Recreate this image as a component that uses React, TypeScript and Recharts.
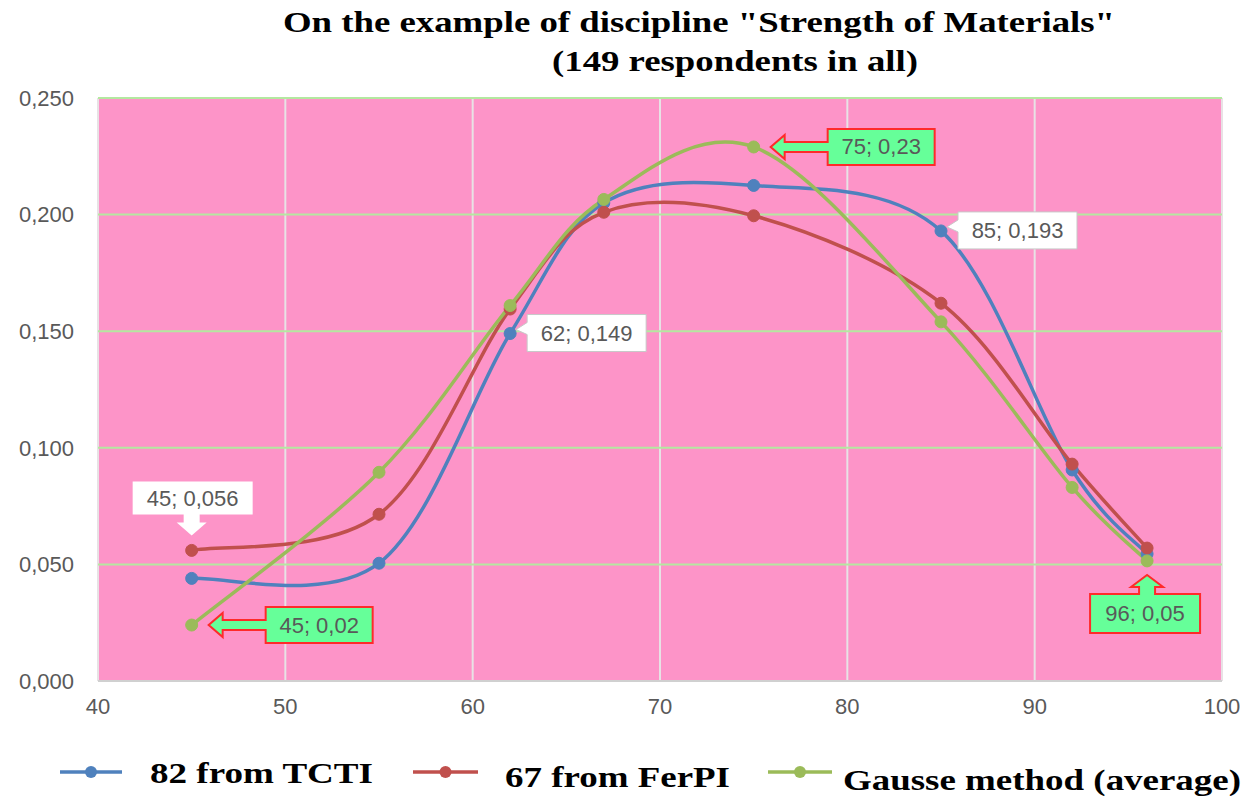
import React from 'react';
import { LineChart, Line, XAxis, YAxis, CartesianGrid, Legend, LabelList } from 'recharts';

// survey score (x) and share of respondents (y)
const xValues = [45, 55, 62, 67, 75, 85, 92, 96];
const tctiValues = [0.044, 0.0505, 0.149, 0.205, 0.2125, 0.193, 0.0905, 0.0545];
const ferpiValues = [0.056, 0.0715, 0.1595, 0.201, 0.1995, 0.162, 0.093, 0.057];
const gausseValues = [0.024, 0.0895, 0.161, 0.2065, 0.229, 0.154, 0.083, 0.0515];

const xTicks = [40, 50, 60, 70, 80, 90, 100];
const yTicks = [0, 0.05, 0.1, 0.15, 0.2, 0.25];

const seriesNames = ['82 from TCTI', '67 from FerPI', 'Gausse method (average)'];

// which points carry a data label
const tctiLabelled = [62, 85];
const ferpiLabelled = [45];
const gausseLabelled = [45, 75, 96];

const data = xValues.map((x, i) => ({
  x,
  tcti: tctiValues[i],
  ferpi: ferpiValues[i],
  gausse: gausseValues[i],
}));

const COLORS = { tcti: '#4f81bd', ferpi: '#c0504d', gausse: '#9bbb59' };
const LABEL_FONT = '"Liberation Sans", Arial, sans-serif';
const SERIF = '"Liberation Serif", "Times New Roman", serif';

// Excel-like smoothed line (Catmull-Rom through every point)
const excelCurve = (context: any) => {
  let pts: number[][] = [];
  return {
    areaStart() {},
    areaEnd() {},
    lineStart() {
      pts = [];
    },
    point(x: number, y: number) {
      pts.push([+x, +y]);
    },
    lineEnd() {
      if (!pts.length) return;
      context.moveTo(pts[0][0], pts[0][1]);
      const t = 1 / 6;
      for (let i = 0; i < pts.length - 1; i++) {
        const p0 = pts[i - 1] || pts[i];
        const p1 = pts[i];
        const p2 = pts[i + 1];
        const p3 = pts[i + 2] || p2;
        context.bezierCurveTo(
          p1[0] + (p2[0] - p0[0]) * t,
          p1[1] + (p2[1] - p0[1]) * t,
          p2[0] - (p3[0] - p1[0]) * t,
          p2[1] - (p3[1] - p1[1]) * t,
          p2[0],
          p2[1],
        );
      }
    },
  };
};

const comma = (v: number, d: number) => v.toFixed(d).replace('.', ',');

type Placement = 'right' | 'above' | 'left' | 'below';

const makeCallout = (labelled: number[], decimals: number, placeFor: (x: number) => Placement) =>
  (props: any) => {
    const { x, y, value, index } = props;
    const xv = xValues[index];
    if (!labelled.includes(xv)) return null;
    const px = Number(x);
    const py = Number(y);
    const text = `${xv}; ${comma(Number(value), decimals)}`;
    const place = placeFor(xv);
    let d = '';
    let tx = 0;
    let ty = 0;
    let fill = '#ffffff';
    let stroke = '#c8c8c8';
    let sw = 1;
    if (place === 'right') {
      const bx = px + 17;
      d = `M${bx},${py - 19} H${bx + 119} V${py + 18} H${bx} V${py + 1} L${px + 6},${py - 4} L${bx},${py - 11} Z`;
      tx = bx + 59.5;
      ty = py;
    } else if (place === 'above') {
      const bx = px - 59;
      d = `M${bx},${py - 69} H${bx + 120} V${py - 36} H${px + 8} V${py - 28} H${px + 15} L${px},${py - 15} L${px - 15},${py - 28} H${px - 8} V${py - 36} H${bx} Z`;
      tx = px + 1;
      ty = py - 52;
      stroke = 'none';
    } else if (place === 'left') {
      const bx = px + 74;
      d = `M${bx},${py - 18} H${bx + 107} V${py + 18} H${bx} V${py + 5} H${px + 31} V${py + 12} L${px + 17},${py} L${px + 31},${py - 12} V${py - 5} H${bx} Z`;
      tx = bx + 53.5;
      ty = py;
      fill = '#66ff99';
      stroke = '#ff2a2a';
      sw = 2;
    } else {
      d = `M${px - 57},${py + 33} H${px - 8} V${py + 26} H${px - 16} L${px},${py + 14} L${px + 16},${py + 26} H${px + 8} V${py + 33} H${px + 53} V${py + 72} H${px - 57} Z`;
      tx = px - 2;
      ty = py + 52.5;
      fill = '#66ff99';
      stroke = '#ff2a2a';
      sw = 2;
    }
    return (
      <g>
        <path d={d} fill={fill} stroke={stroke} strokeWidth={sw} strokeLinejoin="miter" />
        <text
          x={tx}
          y={ty}
          textAnchor="middle"
          dominantBaseline="central"
          fontFamily={LABEL_FONT}
          fontSize={22}
          fill="#595959"
        >
          {text}
        </text>
      </g>
    );
  };

const tctiCallout = makeCallout(tctiLabelled, 3, () => 'right');
const ferpiCallout = makeCallout(ferpiLabelled, 3, () => 'above');
const gausseCallout = makeCallout(gausseLabelled, 2, (x) => (x === 96 ? 'below' : 'left'));

const legendItems = [
  { name: seriesNames[0], color: COLORS.tcti, x1: 60, x2: 122, tx: 150, tw: 223, base: 38 },
  { name: seriesNames[1], color: COLORS.ferpi, x1: 413, x2: 478, tx: 505, tw: 225, base: 42 },
  { name: seriesNames[2], color: COLORS.gausse, x1: 768, x2: 832, tx: 843, tw: 398, base: 45 },
];

const LegendContent = () => (
  <svg width={1252} height={56} style={{ display: 'block' }}>
    {legendItems.map((it) => (
      <g key={it.name}>
        <line x1={it.x1} x2={it.x2} y1={27} y2={27} stroke={it.color} strokeWidth={3.5} />
        <circle cx={(it.x1 + it.x2) / 2} cy={27} r={6} fill={it.color} />
        <text
          x={it.tx}
          y={it.base}
          fontFamily={SERIF}
          fontWeight="bold"
          fontSize={30}
          fill="#000"
          textLength={it.tw}
          lengthAdjust="spacingAndGlyphs"
        >
          {it.name}
        </text>
      </g>
    ))}
  </svg>
);

export default function App() {
  return (
    <div style={{ position: 'absolute', left: 0, top: 0, width: 1252, height: 796, background: '#fff' }}>
      <svg width={1252} height={90} style={{ position: 'absolute', left: 0, top: 0 }}>
        <text
          x={699}
          y={32}
          textAnchor="middle"
          fontFamily={SERIF}
          fontWeight="bold"
          fontSize={30}
          textLength={832}
          lengthAdjust="spacingAndGlyphs"
        >
          On the example of discipline "Strength of Materials"
        </text>
        <text
          x={735}
          y={71}
          textAnchor="middle"
          fontFamily={SERIF}
          fontWeight="bold"
          fontSize={30}
          textLength={366}
          lengthAdjust="spacingAndGlyphs"
        >
          (149 respondents in all)
        </text>
      </svg>
      <div style={{ position: 'absolute', left: 0, top: 0 }}>
        <LineChart width={1252} height={796} data={data} margin={{ top: 98, right: 30, left: 0, bottom: 85 }}>
          <CartesianGrid fill="#fd94c8" horizontal={false} stroke="#e8e2e5" strokeWidth={2} />
          <CartesianGrid vertical={false} stroke="#b4e8a0" strokeWidth={2} />
          <XAxis
            type="number"
            dataKey="x"
            domain={[40, 100]}
            ticks={xTicks}
            axisLine={{ stroke: '#d0d0d0', strokeWidth: 2 }}
            tickLine={false}
            tickSize={0}
            tickMargin={17}
            height={30}
            tick={{ fill: '#595959', fontSize: 22, fontFamily: LABEL_FONT }}
          />
          <YAxis
            type="number"
            domain={[0, 0.25]}
            ticks={yTicks}
            axisLine={false}
            tickLine={false}
            tickSize={0}
            tickMargin={24}
            width={98}
            tickFormatter={(v: number) => comma(v, 3)}
            tick={{ fill: '#595959', fontSize: 22, fontFamily: LABEL_FONT }}
          />
          <Legend
            layout="vertical"
            align="center"
            verticalAlign="middle"
            wrapperStyle={{ left: 0, top: 745, width: 1252, height: 56 }}
            content={() => <LegendContent />}
          />
          <Line
            dataKey="tcti"
            name={seriesNames[0]}
            type={excelCurve as any}
            stroke={COLORS.tcti}
            strokeWidth={3.5}
            dot={{ r: 6, fill: COLORS.tcti, stroke: COLORS.tcti, strokeWidth: 1 }}
            isAnimationActive={false}
          >
            <LabelList dataKey="tcti" content={tctiCallout} />
          </Line>
          <Line
            dataKey="ferpi"
            name={seriesNames[1]}
            type={excelCurve as any}
            stroke={COLORS.ferpi}
            strokeWidth={3.5}
            dot={{ r: 6, fill: COLORS.ferpi, stroke: COLORS.ferpi, strokeWidth: 1 }}
            isAnimationActive={false}
          >
            <LabelList dataKey="ferpi" content={ferpiCallout} />
          </Line>
          <Line
            dataKey="gausse"
            name={seriesNames[2]}
            type={excelCurve as any}
            stroke={COLORS.gausse}
            strokeWidth={3.5}
            dot={{ r: 6, fill: COLORS.gausse, stroke: COLORS.gausse, strokeWidth: 1 }}
            isAnimationActive={false}
          >
            <LabelList dataKey="gausse" content={gausseCallout} />
          </Line>
        </LineChart>
      </div>
    </div>
  );
}
